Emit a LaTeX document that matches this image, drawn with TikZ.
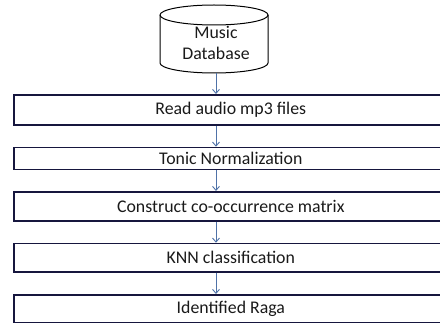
\documentclass[tikz,border=0pt]{standalone}
\usepackage{fontspec}
\setmainfont{Carlito}
\usetikzlibrary{arrows.meta}
\definecolor{boxline}{HTML}{16163E}
\definecolor{arrowc}{HTML}{4F72A8}
\definecolor{txt}{HTML}{1A1A1A}
\begin{document}
\begin{tikzpicture}[x=1pt,y=-1pt,
  stepbox/.style={draw=boxline, line width=1.6pt, rectangle, anchor=north west,
    minimum width=434pt, inner sep=0pt, text=txt, font=\fontsize{17.8}{21}\selectfont},
  arr/.style={draw=arrowc, line width=0.9pt, -{Straight Barb[length=4pt,width=7pt]}}]
\useasboundingbox (0,0) rectangle (440,323);
\clip (0,0) rectangle (440,323);
\fill[white] (0,0) rectangle (440,323);
% cylinder
\draw[black, line width=1pt] (160,15) arc[start angle=180, end angle=-180, x radius=54, y radius=10];
\draw[black, line width=1pt] (160,15) -- (160,63) arc[start angle=180, end angle=0, x radius=54, y radius=10] -- (268,15);
\node[text=txt, inner sep=0pt, align=center, font=\fontsize{17.8}{21}\selectfont] (db) at (216,43) {Music\\Database};
\coordinate (dbbot) at (216,73);
% boxes
\node[stepbox, minimum height=30pt] (b1) at (13,94) {Read audio mp3 files};
\node[stepbox, minimum height=22pt] (b2) at (13,146.7) {Tonic Normalization};
\node[stepbox, minimum height=29pt] (b3) at (13,191) {Construct co-occurrence matrix};
\node[stepbox, minimum height=28.3pt] (b4) at (13,242.7) {KNN classification};
\node[stepbox, minimum height=28pt] (b5) at (13,294) {Identified Raga};
% arrows
\draw[arr] (dbbot) -- (dbbot |- b1.north);
\draw[arr] (dbbot |- b1.south) -- (dbbot |- b2.north);
\draw[arr] (dbbot |- b2.south) -- (dbbot |- b3.north);
\draw[arr] (dbbot |- b3.south) -- (dbbot |- b4.north);
\draw[arr] (dbbot |- b4.south) -- (dbbot |- b5.north);
\end{tikzpicture}
\end{document}
